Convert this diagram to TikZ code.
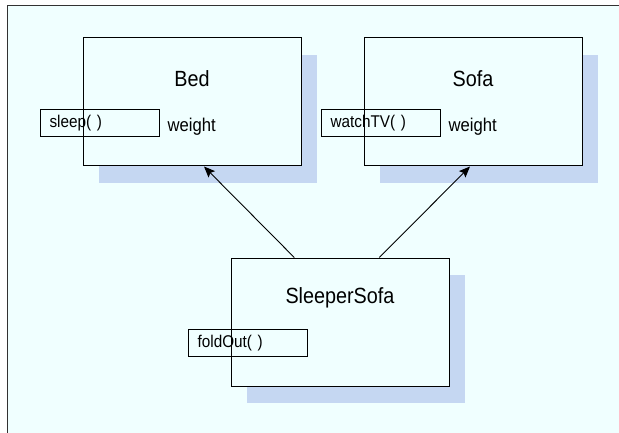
\documentclass[tikz,border=0pt]{standalone}
\usepackage{fontspec}
\setmainfont{Liberation Sans}[FakeStretch=0.9]
\usetikzlibrary{arrows.meta,shadows}
\definecolor{bgc}{RGB}{240,255,255}
\definecolor{shadowc}{RGB}{197,215,242}
\definecolor{framec}{RGB}{50,50,50}
\begin{document}
\begin{tikzpicture}[x=1pt,y=-1pt,
  classbox/.style={draw=black, line width=1pt, fill=bgc, minimum width=218pt, minimum height=128pt, inner sep=0pt,
    general shadow={fill=shadowc, shadow xshift=16pt, shadow yshift=-17pt}},
  titletext/.style={font=\fontsize{22}{24}\selectfont, inner sep=0pt},
  methodbox/.style={draw=black, line width=0.8pt, minimum width=119pt, minimum height=27pt, inner sep=0pt,
    text width=101pt, align=left, font=\fontsize{17}{19}\selectfont},
  attrtext/.style={font=\fontsize{18.5}{20}\selectfont, inner sep=0pt, anchor=base west},
  inherit/.style={line width=0.9pt, -{Stealth[length=11pt,width=9pt,inset=2pt]}}]
\useasboundingbox (0,0) rectangle (619,433);
\fill[bgc] (7.5,5.5) rectangle (619,433);
\draw[framec, line width=1.6pt] (7.5,433) -- (7.5,5.5) -- (619,5.5);

\node[classbox] (bed) at (192,102) {};
\node[classbox] (sofa) at (473,102) {};
\node[classbox] (sleeper) at (340,322) {};

\node[titletext] (bedt) at ([yshift=-41pt]bed.north) {Bed};
\node[titletext] (sofat) at ([yshift=-41pt]sofa.north) {Sofa};
\node[titletext] (sleepert) at ([yshift=-40pt]sleeper.north) {SleeperSofa};

\node[methodbox] (sleep) at ([xshift=-42.3pt]bed.west) [anchor=west, yshift=-21pt] {sleep( )};
\node[methodbox] (watch) at ([xshift=-42.3pt]sofa.west) [anchor=west, yshift=-21pt] {watchTV( )};
\node[methodbox] (fold) at ([xshift=-42.3pt]sleeper.west) [anchor=west, yshift=-21pt] {foldOut( )};

\node[attrtext] (bedw) at ([xshift=7.5pt, yshift=-8.3pt]sleep.east) {weight};
\node[attrtext] (sofaw) at ([xshift=7.5pt, yshift=-8.3pt]watch.east) {weight};

\draw[inherit] ([xshift=-45.7pt]sleeper.north) -- ([xshift=12pt]bed.south);
\draw[inherit] ([xshift=39.3pt]sleeper.north) -- ([xshift=-3pt]sofa.south);
\end{tikzpicture}
\end{document}
